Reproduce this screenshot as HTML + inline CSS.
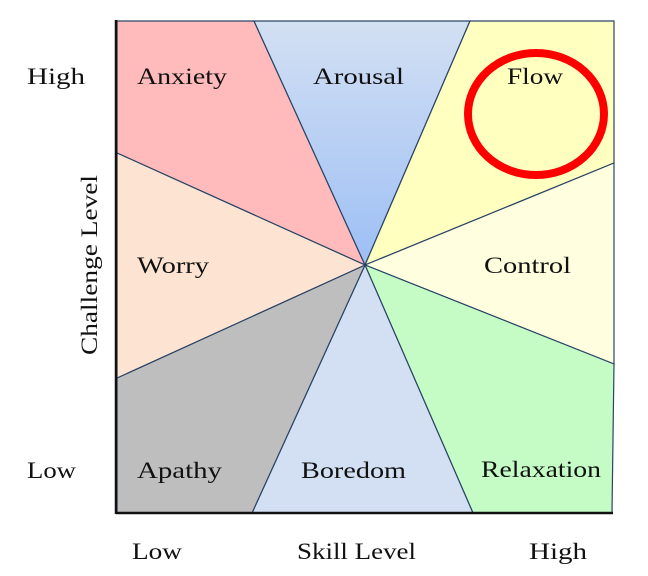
<!DOCTYPE html>
<html><head><style>body{margin:0;background:#fff}svg{display:block}text{font-family:"Liberation Serif",serif;font-size:23px;fill:#111}</style></head>
<body>
<svg width="648" height="576" viewBox="0 0 648 576" xmlns="http://www.w3.org/2000/svg">
<defs><linearGradient id="g" x1="0" y1="0" x2="0" y2="1"><stop offset="0" stop-color="#d3e0f3"/><stop offset="1" stop-color="#9dbff5"/></linearGradient></defs>
<g stroke="#2a4466" stroke-width="1.2">
<polygon points="117,21 254,21 365,265 117,153" fill="#ffbbbb"/>
<polygon points="254,21 470,21 365,265" fill="url(#g)"/>
<polygon points="470,21 614,21 614,163 365,265" fill="#ffffc0"/>
<polygon points="614,163 614,364 365,265" fill="#ffffe0"/>
<polygon points="614,364 612,513 473,513 365,265" fill="#c5fcc5"/>
<polygon points="473,513 252,513 365,265" fill="#d3e0f3"/>
<polygon points="252,513 117,513 117,378 365,265" fill="#bebebe"/>
<polygon points="117,378 117,153 365,265" fill="#fde3d2"/>
</g>
<line x1="116" y1="20" x2="116" y2="514" stroke="#111" stroke-width="2.5"/>
<line x1="116" y1="513" x2="613" y2="513" stroke="#111" stroke-width="2.5"/>
<ellipse cx="536" cy="114" rx="68" ry="61" fill="none" stroke="#f00" stroke-width="8"/>
<text x="137" y="84" textLength="90" lengthAdjust="spacingAndGlyphs">Anxiety</text>
<text x="313" y="84" textLength="91" lengthAdjust="spacingAndGlyphs">Arousal</text>
<text x="507" y="84" textLength="56" lengthAdjust="spacingAndGlyphs">Flow</text>
<text x="137" y="273" textLength="72" lengthAdjust="spacingAndGlyphs">Worry</text>
<text x="484" y="273" textLength="87" lengthAdjust="spacingAndGlyphs">Control</text>
<text x="137" y="478" textLength="85" lengthAdjust="spacingAndGlyphs">Apathy</text>
<text x="301" y="478" textLength="105" lengthAdjust="spacingAndGlyphs">Boredom</text>
<text x="481" y="477" textLength="120" lengthAdjust="spacingAndGlyphs">Relaxation</text>
<text x="27" y="84" textLength="58" lengthAdjust="spacingAndGlyphs">High</text>
<text x="27" y="478" textLength="49" lengthAdjust="spacingAndGlyphs">Low</text>
<text x="132" y="559" textLength="50" lengthAdjust="spacingAndGlyphs">Low</text>
<text x="297" y="559" textLength="119" lengthAdjust="spacingAndGlyphs">Skill Level</text>
<text x="529" y="559" textLength="58" lengthAdjust="spacingAndGlyphs">High</text>
<text transform="translate(97,355) rotate(-90)" textLength="180" lengthAdjust="spacingAndGlyphs">Challenge Level</text>
</svg>
</body></html>
